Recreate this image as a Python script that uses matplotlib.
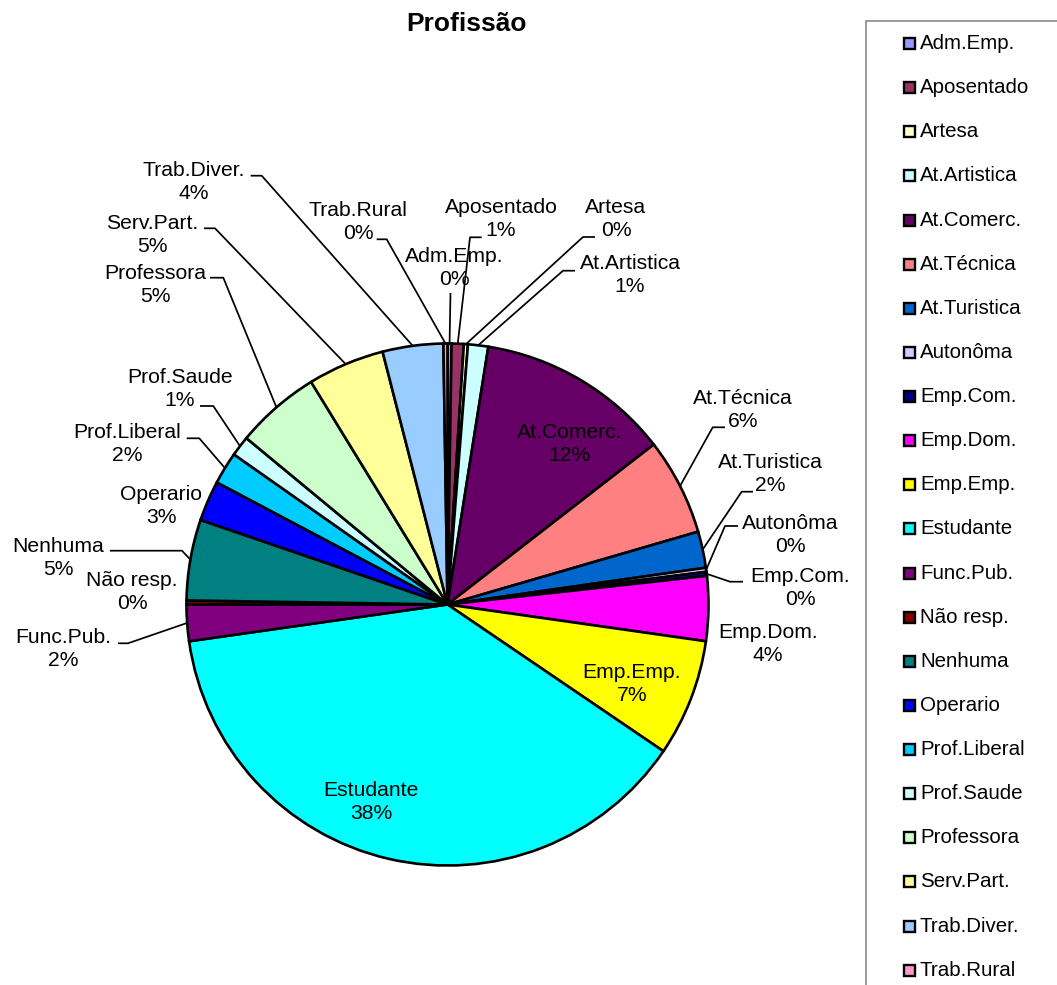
import math
import matplotlib
matplotlib.use("Agg")
import matplotlib.pyplot as plt
from matplotlib.patches import Rectangle

plt.rcParams['font.family'] = ['Liberation Sans', 'DejaVu Sans']

# Respondent occupations (counts), in legend / slice order
categories = ["Adm.Emp.", "Aposentado", "Artesa", "At.Artistica", "At.Comerc.",
              "At.Técnica", "At.Turistica", "Autonôma", "Emp.Com.", "Emp.Dom.",
              "Emp.Emp.", "Estudante", "Func.Pub.", "Não resp.", "Nenhuma",
              "Operario", "Prof.Liberal", "Prof.Saude", "Professora", "Serv.Part.",
              "Trab.Diver.", "Trab.Rural"]
counts = [1, 3, 1, 5, 48, 24, 9, 1, 1, 16, 29, 153, 9, 1, 20, 10, 8, 5, 21, 19, 15, 1]
colors = ["#9999FF", "#993366", "#FFFFCC", "#CCFFFF", "#660066", "#FF8080",
          "#0066CC", "#CCCCFF", "#000080", "#FF00FF", "#FFFF00", "#00FFFF",
          "#800080", "#800000", "#008080", "#0000FF", "#00CCFF", "#CCFFFF",
          "#CCFFCC", "#FFFF99", "#99CCFF", "#FF99CC"]
title = "Profissão"

W, H = 1057, 985
fig = plt.figure(figsize=(W / 100, H / 100), dpi=100)
ax = fig.add_axes([0, 0, 1, 1])


def Y(y):
    """Convert a top-down pixel row to the axes' bottom-up coordinate."""
    return H - y


CX, CY, R = 447.5, Y(604.5), 261

wedges, _ = ax.pie(counts, colors=colors, startangle=90, counterclock=False,
                   center=(CX, CY), radius=R,
                   wedgeprops=dict(edgecolor="black", linewidth=1.9))

ax.set_xlim(0, W)
ax.set_ylim(0, H)
ax.set_aspect("auto")
ax.axis("off")

total = sum(counts)
pcts = [math.floor(100 * c / total + 0.5) for c in counts]

# Label layout: text block centre (x, y from top), and optional leader stub
# (x where the stub starts, x of the elbow, y of the stub) or 'v' for a
# straight drop to the slice.
label_pos = {
    "Adm.Emp.": (454, 268), "Aposentado": (501, 219), "Artesa": (616, 219),
    "At.Artistica": (630, 275), "At.Comerc.": (570, 444), "At.Técnica": (743, 410),
    "At.Turistica": (770, 474), "Autonôma": (790, 535), "Emp.Com.": (800, 588),
    "Emp.Dom.": (768, 644), "Emp.Emp.": (632, 684), "Estudante": (371, 802),
    "Func.Pub.": (63, 649), "Não resp.": (132, 592), "Nenhuma": (58, 558),
    "Operario": (161, 506), "Prof.Liberal": (127, 444), "Prof.Saude": (180, 389),
    "Professora": (155, 285), "Serv.Part.": (152, 235), "Trab.Diver.": (194, 182),
    "Trab.Rural": (358, 222),
}
leader = {
    "Adm.Emp.": ("v", 450.5, 293),
    "Aposentado": (481.7, 470, 237.3), "Artesa": (595, 583, 237),
    "At.Artistica": (575, 563, 270.7), "At.Técnica": (725, 712.7, 427.3),
    "At.Turistica": (753, 741.7, 491.7), "Autonôma": (738, 725, 526),
    "Emp.Com.": (743, 730, 581.7), "Func.Pub.": (118, 128, 643.3),
    "Nenhuma": (110, 182, 550.7), "Prof.Liberal": (186.7, 199.3, 438.3),
    "Prof.Saude": (200, 213.3, 406), "Professora": (210, 223.3, 277.7),
    "Serv.Part.": (204, 215, 228.3), "Trab.Diver.": (250.7, 261.7, 175.7),
    "Trab.Rural": (376.7, 386.7, 239.3),
}

LABEL_FS = 15.2
for w, name, p in zip(wedges, categories, pcts):
    lx, ly = label_pos[name]
    ax.text(lx, Y(ly), f"{name}\n{p}%", ha="center", va="center",
            fontsize=LABEL_FS, linespacing=1.33, color="black")
    if name in leader:
        mid = math.radians((w.theta1 + w.theta2) / 2)
        ex, ey = CX + R * math.cos(mid), CY + R * math.sin(mid)
        spec = leader[name]
        if spec[0] == "v":
            xs, ys = [spec[1], ex], [Y(spec[2]), ey]
        else:
            x0, x1, hy = spec
            xs, ys = [x0, x1, ex], [Y(hy), Y(hy), ey]
        ax.plot(xs, ys, color="black", linewidth=1.25, solid_capstyle="butt")

ax.text(467, Y(24), title, ha="center", va="center", fontsize=19,
        fontweight="bold")

# Legend panel
ax.add_patch(Rectangle((866, Y(1000)), 200, 1000 - 21, facecolor="white",
                       edgecolor="#808080", linewidth=1.1, clip_on=False))
for i, (name, c) in enumerate(zip(categories, colors)):
    yy = Y(43.5 + i * 44.13)
    ax.add_patch(Rectangle((903.5, yy - 5.5), 11, 11, facecolor=c,
                           edgecolor="black", linewidth=1.7))
    ax.text(920, yy, name, ha="left", va="center", fontsize=14.8)

fig.savefig("out.png", dpi=100)
